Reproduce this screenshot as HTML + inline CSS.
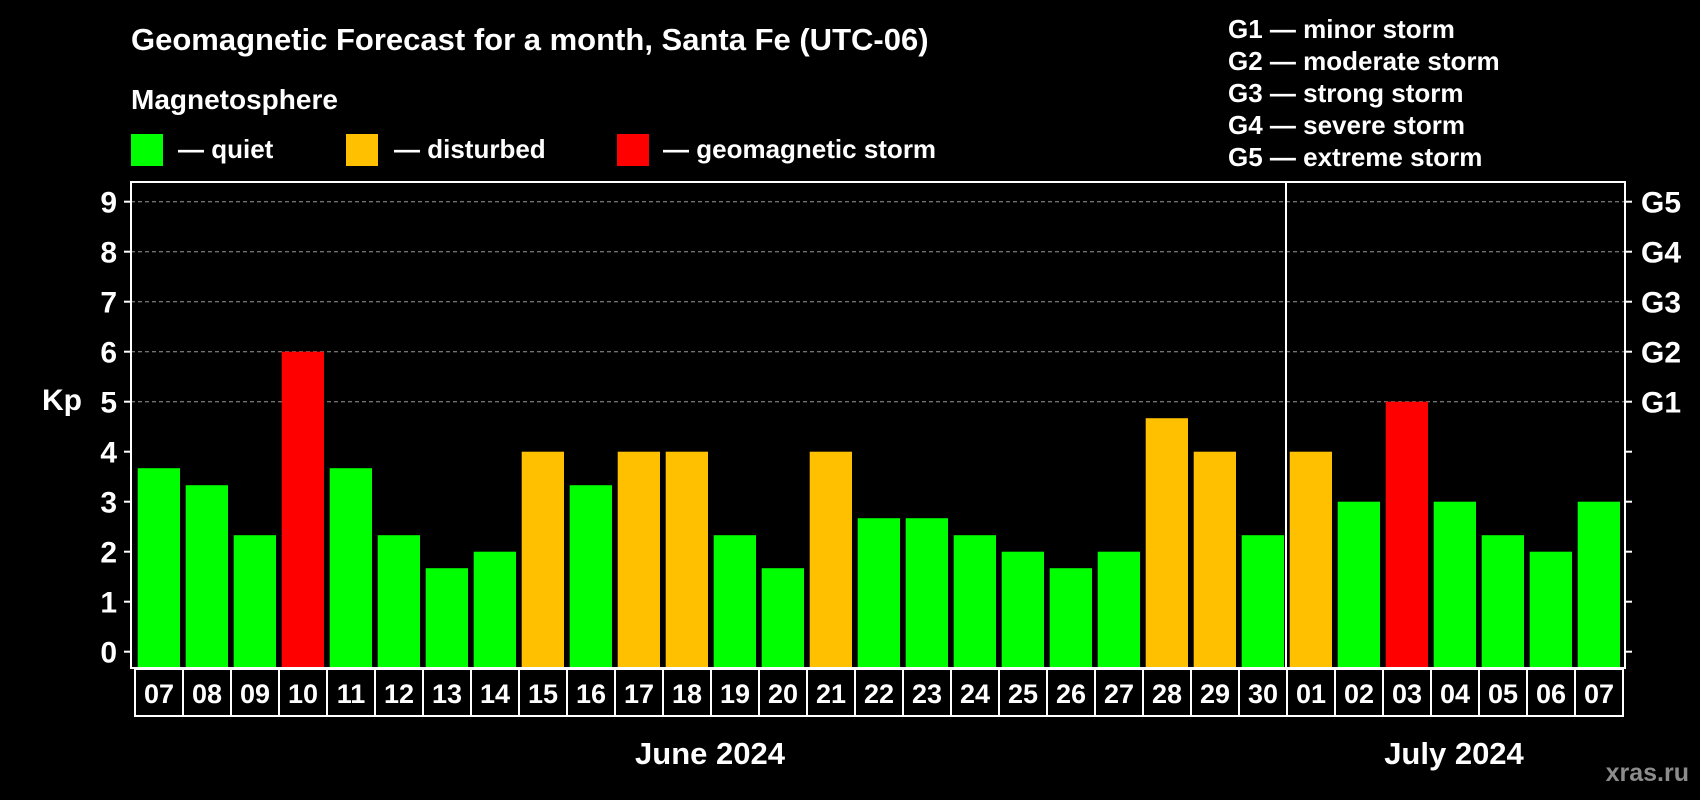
<!DOCTYPE html>
<html><head><meta charset="utf-8">
<style>
html,body{margin:0;padding:0;background:#000;width:1700px;height:800px;overflow:hidden}
svg{display:block;font-family:"Liberation Sans",Arial,sans-serif;font-weight:bold}
</style></head>
<body>
<svg id="chart" width="1700" height="800" viewBox="0 0 1700 800">
<text x="131" y="50" fill="#fff" font-size="31">Geomagnetic Forecast for a month, Santa Fe (UTC-06)</text>
<text x="131" y="109" fill="#fff" font-size="28">Magnetosphere</text>
<rect x="131" y="134" width="32" height="32" fill="#00ff00"/>
<text x="178" y="158" fill="#fff" font-size="26">— quiet</text>
<rect x="346" y="134" width="32" height="32" fill="#ffc000"/>
<text x="394" y="158" fill="#fff" font-size="26">— disturbed</text>
<rect x="617" y="134" width="32" height="32" fill="#ff0000"/>
<text x="663" y="158" fill="#fff" font-size="26">— geomagnetic storm</text>
<g fill="#fff" font-size="26">
<text x="1228" y="38">G1 — minor storm</text>
<text x="1228" y="70">G2 — moderate storm</text>
<text x="1228" y="102">G3 — strong storm</text>
<text x="1228" y="134">G4 — severe storm</text>
<text x="1228" y="166">G5 — extreme storm</text>
</g>
<text x="42" y="410" fill="#fff" font-size="30">Kp</text>
<g id="grid"></g>
<g id="bars"></g>
<g id="axes"></g>
<text x="710" y="764" fill="#fff" font-size="31" text-anchor="middle">June 2024</text>
<text x="1454" y="764" fill="#fff" font-size="31" text-anchor="middle">July 2024</text>
<text x="1689" y="781" fill="#8c8c8c" font-size="25" text-anchor="end">xras.ru</text>
</svg>
<script>
const days = ["07","08","09","10","11","12","13","14","15","16","17","18","19","20","21","22","23","24","25","26","27","28","29","30","01","02","03","04","05","06","07"];
const kpValues = [3.67,3.33,2.33,6,3.67,2.33,1.67,2,4,3.33,4,4,2.33,1.67,4,2.67,2.67,2.33,2,1.67,2,4.67,4,2.33,4,3,5,3,2.33,2,3];
const yTicks = [0,1,2,3,4,5,6,7,8,9];
const gLevels = [5,6,7,8,9];
const gLabels = ["G1","G2","G3","G4","G5"];
const monthSplitIndex = 24;

const NS = "http://www.w3.org/2000/svg";
const L = 131, R = 1625, T = 182, B = 668, cellL = 135, pitch = 48;
const y = v => 651.7 - 50 * v;
const x = i => cellL + i * pitch;
function mk(tag, attrs, parent) { const e = document.createElementNS(NS, tag); for (const k in attrs) e.setAttribute(k, attrs[k]); parent.appendChild(e); return e; }
const grid = document.getElementById("grid"), bars = document.getElementById("bars"), axes = document.getElementById("axes");

yTicks.forEach(v => {
  if (v >= 5) {
    const g = mk("line", {x1: L, x2: R, y1: y(v), y2: y(v), stroke: "#999", "stroke-width": 1, "stroke-dasharray": "4,3"}, grid);
    
    
  }
  const t = mk("line", {x1: L - 7, x2: L, y1: y(v), y2: y(v), stroke: "#fff", "stroke-width": 2}, axes);
  
  
  const t2 = mk("line", {x1: R, x2: R + 7, y1: y(v), y2: y(v), stroke: "#fff", "stroke-width": 2}, axes);
  
  
  const lb = mk("text", {x: 117, y: y(v) + 11, fill: "#fff", "font-size": 30, "text-anchor": "end"}, axes);
  lb.textContent = v;
  
  
});
gLevels.forEach((v, i) => {
  const lb = mk("text", {x: 1641, y: y(v) + 11, fill: "#fff", "font-size": 30}, axes);
  lb.textContent = gLabels[i];
  
  
});

kpValues.forEach((v, i) => {
  const col = v >= 5 ? "#ff0000" : (v >= 4 ? "#ffc000" : "#00ff00");
  const r = mk("rect", {x: x(i) + 2.7, y: y(v), width: 42.3, height: B - y(v), fill: col}, bars);
  
  
  const c = mk("rect", {x: x(i), y: 669, width: pitch, height: 47, fill: "none", stroke: "#fff", "stroke-width": 2}, axes);
  
  
  const t = mk("text", {x: x(i) + pitch / 2, y: 703, fill: "#fff", "font-size": 27, "text-anchor": "middle"}, axes);
  t.textContent = days[i];
  
  
});

const fr = mk("rect", {x: L, y: T, width: R - L, height: B - T, fill: "none", stroke: "#fff", "stroke-width": 2}, axes);


const sx = x(monthSplitIndex) - 1;
const sep = mk("line", {x1: sx, x2: sx, y1: T, y2: B, stroke: "#fff", "stroke-width": 2}, axes);


</script>
</body></html>
